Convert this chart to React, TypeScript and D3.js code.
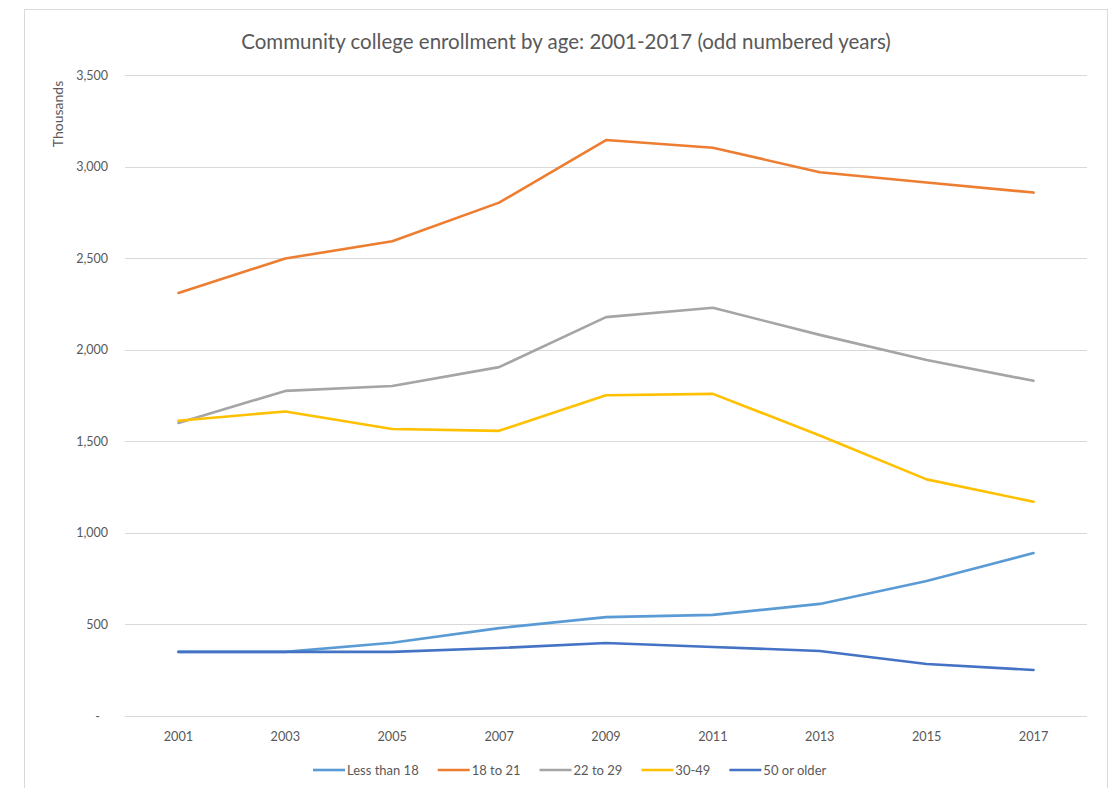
import React, { useEffect, useRef } from "react";
import * as d3 from "d3";

const years = ["2001", "2003", "2005", "2007", "2009", "2011", "2013", "2015", "2017"];
const seriesNames = ["Less than 18", "18 to 21", "22 to 29", "30-49", "50 or older"];
const seriesColors = ["#5B9BD5", "#ED7D31", "#A5A5A5", "#FFC000", "#4472C4"];
const lessThan18 = [350, 350, 400, 480, 540, 552, 612, 737, 890];
const age18to21 = [2310, 2498, 2592, 2803, 3145, 3103, 2969, 2913, 2858];
const age22to29 = [1600, 1775, 1802, 1905, 2178, 2229, 2081, 1944, 1830];
const age30to49 = [1612, 1663, 1567, 1557, 1751, 1759, 1532, 1292, 1170];
const age50plus = [350, 350, 350, 371, 399, 377, 355, 284, 251];
const seriesValues = [lessThan18, age18to21, age22to29, age30to49, age50plus];
const yTicks = [0, 500, 1000, 1500, 2000, 2500, 3000, 3500];

const W = 1115;
const H = 788;
const FONT = "Lato, 'Open Sans', sans-serif";

export default function App() {
  const ref = useRef<SVGSVGElement | null>(null);

  useEffect(() => {
    document.body.style.margin = "0";
    const svg = d3.select(ref.current);
    svg.selectAll("*").remove();

    const x = d3.scalePoint<string>().domain(years).range([125, 1087]).padding(0.5);
    const y = d3.scaleLinear().domain([0, 3500]).range([716, 75]);

    svg.append("rect").attr("x", 0).attr("y", 0).attr("width", W).attr("height", H).attr("fill", "#fff");
    svg
      .append("rect")
      .attr("x", 24.5)
      .attr("y", 9.5)
      .attr("width", 1083)
      .attr("height", 800)
      .attr("fill", "none")
      .attr("stroke", "#d9d9d9")
      .attr("stroke-width", 1);

    // title
    svg
      .append("text")
      .attr("x", 566)
      .attr("y", 49)
      .attr("text-anchor", "middle")
      .attr("font-family", FONT)
      .attr("font-size", 20.5)
      .attr("fill", "#595959")
      .text("Community college enrollment by age: 2001-2017 (odd numbered years)");

    // y axis title
    svg
      .append("text")
      .attr("transform", "translate(63,114) rotate(-90)")
      .attr("text-anchor", "middle")
      .attr("font-family", FONT)
      .attr("font-size", 14)
      .attr("fill", "#595959")
      .text("Thousands");

    // gridlines
    svg
      .append("g")
      .selectAll("line")
      .data(yTicks)
      .join("line")
      .attr("x1", 125)
      .attr("x2", 1087)
      .attr("y1", (d) => Math.round(y(d)) + 0.5)
      .attr("y2", (d) => Math.round(y(d)) + 0.5)
      .attr("stroke", "#d9d9d9")
      .attr("stroke-width", 1);

    // y tick labels
    svg
      .append("g")
      .selectAll("text")
      .data(yTicks)
      .join("text")
      .attr("x", (d) => (d === 0 ? 100 : 108))
      .attr("y", (d) => y(d) + 4.5)
      .attr("text-anchor", "end")
      .attr("font-family", FONT)
      .attr("font-size", 12.5)
      .attr("fill", "#595959")
      .text((d) => (d === 0 ? "-" : d3.format(",")(d)));

    // x tick labels
    svg
      .append("g")
      .selectAll("text")
      .data(years)
      .join("text")
      .attr("x", (d) => x(d) as number)
      .attr("y", 741)
      .attr("text-anchor", "middle")
      .attr("font-family", FONT)
      .attr("font-size", 12.7)
      .attr("fill", "#595959")
      .text((d) => d);

    // lines
    const line = d3
      .line<number>()
      .x((_, i) => x(years[i]) as number)
      .y((d) => y(d));
    seriesValues.forEach((vals, i) => {
      svg
        .append("path")
        .attr("d", line(vals))
        .attr("fill", "none")
        .attr("stroke", seriesColors[i])
        .attr("stroke-width", 2.6)
        .attr("stroke-linejoin", "round")
        .attr("stroke-linecap", "round");
    });

    // legend
    const lg = svg.append("g");
    let lx = 313;
    const ly = 770;
    seriesNames.forEach((name, i) => {
      lg.append("line")
        .attr("x1", lx)
        .attr("x2", lx + 32)
        .attr("y1", ly)
        .attr("y2", ly)
        .attr("stroke", seriesColors[i])
        .attr("stroke-width", 2.6);
      const t = lg
        .append("text")
        .attr("x", lx + 34)
        .attr("y", ly + 4.5)
        .attr("font-family", FONT)
        .attr("font-size", 13)
        .attr("fill", "#595959")
        .text(name);
      const w = (t.node() as SVGTextElement).getComputedTextLength();
      lx = lx + 34 + w + 19;
    });
  }, []);

  return <svg ref={ref} width={W} height={H} style={{ display: "block" }} />;
}
